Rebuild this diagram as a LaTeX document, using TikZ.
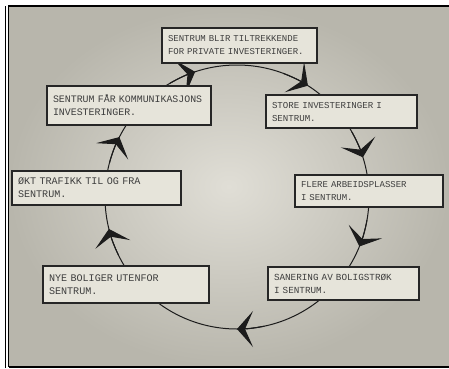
\documentclass[tikz,border=0pt]{standalone}
\usepackage{fontspec}
\newfontfamily\tw{Liberation Mono}
\usetikzlibrary{arrows.meta}
\definecolor{bginner}{HTML}{E0DED6}
\definecolor{bgouter}{HTML}{B8B6AC}
\definecolor{boxline}{HTML}{262626}
\definecolor{boxfill}{HTML}{E6E4DA}
\definecolor{txt}{HTML}{3E3E3E}
\definecolor{ring}{HTML}{1C1C1C}
\begin{document}
\begin{tikzpicture}[x=1pt,y=1pt,
  box/.style={rectangle, draw=boxline, line width=1.3pt, fill=boxfill, text=txt,
    inner xsep=6pt, inner ysep=3pt, align=left},
  fs/.style={font={\tw\fontsize{#1}{13}\selectfont}},
  cyc/.style={draw=ring, line width=1pt},
  arr/.style={draw=ring, fill=ring, line width=1pt,
    -{Stealth[length=16pt,width=36pt,inset=8pt]}},
  frame/.style={draw=black, line width=1.4pt}
]
\useasboundingbox (0,0) rectangle (449,368);
\fill[white] (0,0) rectangle (449,368);
\shade[inner color=bginner, outer color=bgouter] (8.5,1.2) rectangle (449,362);
% frame
\draw[frame] (5.5,0) -- (5.5,362);
\draw[frame] (8.5,1.2) -- (8.5,362) -- (449,362);
\draw[frame] (8.5,1.2) -- (449,1.2);
% cycle
\coordinate (c) at (237,171);
\draw[cyc] (c) circle[radius=132pt];
\foreach \t in {108.5,57.5,17.5,-22,-90,194,153}{
  \pgfmathsetmacro{\s}{\t+12}
  \draw[arr] ([shift={(\s:132pt)}]c) arc[start angle=\s, end angle=\t, radius=132pt];
}
% boxes
\node[box, fs=9.0, minimum width=155pt, text width=143pt, minimum height=35pt] (top) at (239.5,322.5)
  {SENTRUM BLIR TILTREKKENDE\\FOR PRIVATE INVESTERINGER.};
\node[box, fs=9.9, minimum width=164pt, text width=152pt, minimum height=39pt] (komm) at (129,262.5)
  {SENTRUM FÅR KOMMUNIKASJONS\\INVESTERINGER.};
\node[box, fs=9.1, minimum width=151pt, text width=139pt, minimum height=33pt] (store) at (341.5,256.5)
  {STORE INVESTERINGER I\\SENTRUM.};
\node[box, fs=9.0, minimum width=148pt, text width=136pt, minimum height=32pt] (flere) at (369,177)
  {FLERE ARBEIDSPLASSER\\I SENTRUM.};
\node[box, fs=10.1, minimum width=169pt, text width=157pt, minimum height=34pt] (okt) at (96.5,180)
  {ØKT TRAFIKK TIL OG FRA\\SENTRUM.};
\node[box, fs=10.1, minimum width=166pt, text width=154pt, minimum height=37pt] (nye) at (126,83.5)
  {NYE BOLIGER UTENFOR\\SENTRUM.};
\node[box, fs=9.3, minimum width=151pt, text width=139pt, minimum height=33pt] (san) at (343.5,84.5)
  {SANERING AV BOLIGSTRØK\\I SENTRUM.};
\end{tikzpicture}
\end{document}
